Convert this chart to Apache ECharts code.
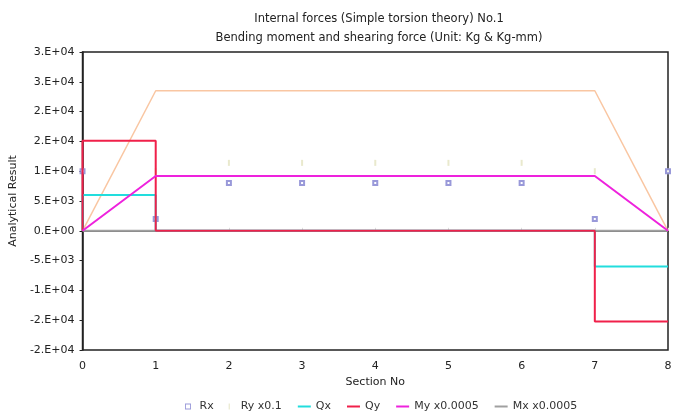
<!DOCTYPE html>
<html>
<head>
<meta charset="utf-8">
<script src="https://cdn.jsdelivr.net/npm/echarts@6/dist/echarts.min.js"></script>
<style>
  html, body { margin: 0; padding: 0; background: #fff; }
  #chart { width: 683px; height: 415px; }
</style>
</head>
<body>
<div id="chart"></div>
<script>
// section numbers and reactions read at each section
var sections = [0, 1, 2, 3, 4, 5, 6, 7, 8];
var rxValues = [10000, 2000, 8000, 8000, 8000, 8000, 8000, 2000, 10000];
var ryValues = [10000, 10000, 11400, 11400, 11400, 11400, 11400, 10000, 10000];

// [section, value] pairs (steps repeat the section number)
var qxPoints = [[0, 0], [0, 6000], [1, 6000], [1, 0], [7, 0], [7, -6000], [8, -6000]];
var qyPoints = [[0, 0], [0, 15100], [1, 15100], [1, 0], [7, 0], [7, -15200], [8, -15200]];
var myPoints = [[0, 0], [1, 9200], [7, 9200], [8, 0]];
var mxPoints = [[0, 0], [8, 0]];
var extraPoints = [[0, 0], [1, 23500], [7, 23500], [8, 0]];

var yTickLabels = ['-2.E+04', '-2.E+04', '-1.E+04', '-5.E+03', '0.E+00', '5.E+03',
                   '1.E+04', '2.E+04', '2.E+04', '3.E+04', '3.E+04'];
var yMin = -20000, yMax = 30000, yStep = 5000;

var txt = 'DejaVu Sans, Verdana, sans-serif';

function pairs(xs, ys) {
  var out = [];
  for (var i = 0; i < xs.length; i++) out.push([xs[i], ys[i]]);
  return out;
}

var noDot = { opacity: 0 };

var chart = echarts.init(document.getElementById('chart'));

var option = {
  backgroundColor: '#fff',
  animation: false,
  title: [{
    text: 'Internal forces (Simple torsion theory) No.1',
    left: 374, top: 8, textAlign: 'center',
    textStyle: { fontFamily: txt, fontSize: 11.5, fontWeight: 'normal', color: '#222' }
  }, {
    text: 'Bending moment and shearing force (Unit: Kg & Kg-mm)',
    left: 374, top: 27, textAlign: 'center',
    textStyle: { fontFamily: txt, fontSize: 11.5, fontWeight: 'normal', color: '#222' }
  }],
  grid: {
    left: 81, right: 15, top: 52, bottom: 65,
    show: true, borderColor: '#222', borderWidth: 1.5, backgroundColor: '#fff'
  },
  legend: {
    top: 396, left: 180,
    itemWidth: 13, itemHeight: 6, itemGap: 15,
    textStyle: { fontFamily: txt, fontSize: 11, color: '#333' },
    data: [
      { name: 'Rx', icon: 'path://M0,0h10v10h-10z M1.5,1.5v7h7v-7z' },
      { name: 'Ry x0.1', icon: 'path://M4,0h2v10h-2z' },
      { name: 'Qx', itemStyle: noDot },
      { name: 'Qy', itemStyle: noDot },
      { name: 'My x0.0005', itemStyle: noDot },
      { name: 'Mx x0.0005', itemStyle: noDot }
    ]
  },
  xAxis: {
    type: 'value', min: 0, max: 8, interval: 1,
    name: 'Section No', nameLocation: 'middle', nameGap: 27,
    nameTextStyle: { fontFamily: txt, fontSize: 11, color: '#222' },
    axisLine: { show: true, lineStyle: { color: '#222', width: 1.5 } },
    axisTick: { show: true, inside: true, length: 3, lineStyle: { color: '#ddd' } },
    splitLine: { show: false },
    axisLabel: { fontFamily: txt, fontSize: 11, color: '#222', margin: 11 }
  },
  yAxis: {
    type: 'value', min: yMin, max: yMax, interval: yStep,
    name: 'Analytical Result', nameLocation: 'middle', nameGap: 61,
    nameTextStyle: { fontFamily: txt, fontSize: 11, color: '#222' },
    axisLine: { show: true, lineStyle: { color: '#222', width: 1.5 } },
    axisTick: { show: true, length: 3, lineStyle: { color: '#222' } },
    splitLine: { show: false },
    axisLabel: {
      fontFamily: txt, fontSize: 11, color: '#222', margin: 8,
      formatter: function (v) {
        return yTickLabels[Math.round((v - yMin) / yStep)];
      }
    }
  },
  series: [{
    name: 'Mx x0.0005', type: 'line', symbol: 'none',
    lineStyle: { color: '#a0a0a0', width: 2 }, itemStyle: { color: '#a0a0a0' },
    data: mxPoints
  }, {
    name: 'extra', type: 'line', symbol: 'none',
    lineStyle: { color: 'rgba(245,160,100,0.6)', width: 1.5 },
    data: extraPoints
  }, {
    name: 'Qx', type: 'line', symbol: 'none',
    lineStyle: { color: '#22dddd', width: 2 }, itemStyle: { color: '#22dddd' },
    data: qxPoints
  }, {
    name: 'Qy', type: 'line', symbol: 'none',
    lineStyle: { color: '#f0204a', width: 2 }, itemStyle: { color: '#f0204a' },
    data: qyPoints
  }, {
    name: 'My x0.0005', type: 'line', symbol: 'none',
    lineStyle: { color: '#ee22dd', width: 2 }, itemStyle: { color: '#ee22dd' },
    data: myPoints
  }, {
    name: 'Ry x0.1', type: 'scatter', symbol: 'rect', symbolSize: [2, 6],
    itemStyle: { color: '#e4e4c0' },
    data: pairs(sections, ryValues)
  }, {
    name: 'Rx', type: 'scatter', symbol: 'emptyRect', symbolSize: 4,
    itemStyle: { color: '#8080d0', borderWidth: 1 },
    data: pairs(sections, rxValues)
  }]
};

chart.setOption(option);
</script>
</body>
</html>
